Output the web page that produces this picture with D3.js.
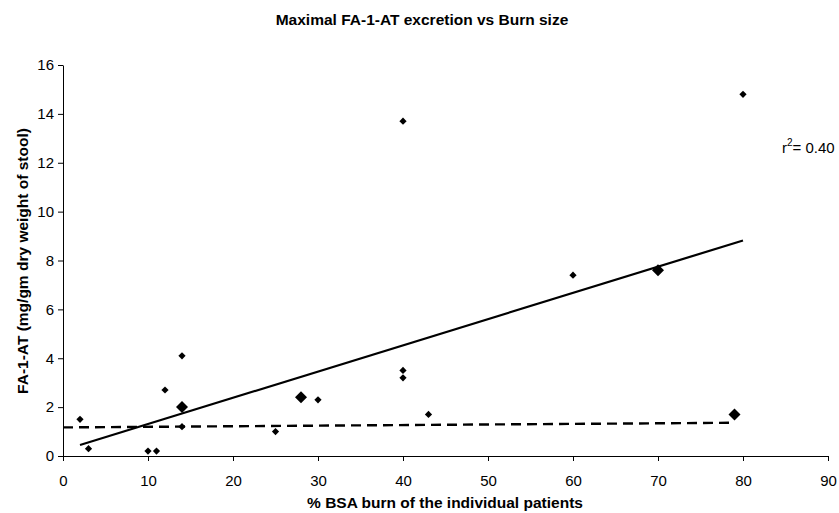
<!DOCTYPE html>
<html>
<head>
<meta charset="utf-8">
<script src="https://cdn.jsdelivr.net/npm/d3@7"></script>
<style>
body { margin: 0; background: #fff; }
text { font-family: "Liberation Sans", Arial, sans-serif; fill: #000; }
</style>
</head>
<body>
<div id="chart"></div>
<script>
// small patient points
var burnSmall = [2, 3, 10, 11, 12, 14, 14, 25, 30, 40, 40, 40, 43, 60, 80];
var fa1atSmall = [1.5, 0.3, 0.2, 0.2, 2.7, 4.1, 1.2, 1.0, 2.3, 13.7, 3.5, 3.2, 1.7, 7.4, 14.8];
// larger markers
var burnBig = [14, 28, 70, 79];
var fa1atBig = [2.0, 2.4, 7.6, 1.7];
// trend lines (end points)
var trendX = [2, 80];
var trendY = [0.45, 8.82];
var baseX = [0, 79];
var baseY = [1.17, 1.36];
var xTicks = [0, 10, 20, 30, 40, 50, 60, 70, 80, 90];
var yTicks = [0, 2, 4, 6, 8, 10, 12, 14, 16];

var w = 839, h = 513;
var svg = d3.select("#chart").append("svg")
    .attr("width", w)
    .attr("height", h);

var x = d3.scaleLinear().domain([0, 90]).range([63, 828]);
var y = d3.scaleLinear().domain([0, 16]).range([456, 65]);

svg.append("g")
    .attr("transform", "translate(0," + y(0) + ")")
    .call(d3.axisBottom(x).tickValues(xTicks).tickSize(5).tickSizeOuter(0))
    .call(function(g) {
        g.selectAll("text").style("font-size", "15px").attr("y", 19);
        g.selectAll("line, path").attr("stroke", "#000");
    });

svg.append("g")
    .attr("transform", "translate(" + x(0) + ",0)")
    .call(d3.axisLeft(y).tickValues(yTicks).tickSize(5).tickSizeOuter(0))
    .call(function(g) {
        g.selectAll("text").style("font-size", "15px").attr("x", -9);
        g.selectAll("line, path").attr("stroke", "#000");
    });

var line = d3.line()
    .x(function(d) { return x(d[0]); })
    .y(function(d) { return y(d[1]); });

svg.append("path")
    .attr("d", line(d3.zip(trendX, trendY)))
    .attr("stroke", "#000")
    .attr("stroke-width", 2.2)
    .attr("fill", "none");

svg.append("path")
    .attr("d", line(d3.zip(baseX, baseY)))
    .attr("stroke", "#000")
    .attr("stroke-width", 2.4)
    .attr("stroke-dasharray", "10,6")
    .attr("fill", "none");

// square diamonds: squares turned 45 degrees
var smallSym = d3.symbol().type(d3.symbolSquare).size(26);
var bigSym = d3.symbol().type(d3.symbolSquare).size(72);

svg.selectAll(".pt")
    .data(d3.zip(burnSmall, fa1atSmall))
    .enter().append("path")
    .attr("class", "pt")
    .attr("d", smallSym)
    .attr("transform", function(d) { return "translate(" + x(d[0]) + "," + y(d[1]) + ") rotate(45)"; })
    .attr("fill", "#000");

svg.selectAll(".big")
    .data(d3.zip(burnBig, fa1atBig))
    .enter().append("path")
    .attr("class", "big")
    .attr("d", bigSym)
    .attr("transform", function(d) { return "translate(" + x(d[0]) + "," + y(d[1]) + ") rotate(45)"; })
    .attr("fill", "#000");

svg.append("text")
    .attr("x", 422).attr("y", 25)
    .attr("text-anchor", "middle")
    .style("font-size", "15.5px")
    .style("font-weight", "bold")
    .text("Maximal FA-1-AT excretion vs Burn size");

svg.append("text")
    .attr("x", 445).attr("y", 508)
    .attr("text-anchor", "middle")
    .style("font-size", "15.5px")
    .style("font-weight", "bold")
    .text("% BSA burn of the individual patients");

svg.append("text")
    .attr("transform", "translate(28,261) rotate(-90)")
    .attr("text-anchor", "middle")
    .style("font-size", "15.5px")
    .style("font-weight", "bold")
    .text("FA-1-AT (mg/gm dry weight of stool)");

var r2 = svg.append("text")
    .attr("x", 782).attr("y", 153)
    .style("font-size", "15px");
r2.append("tspan").text("r");
r2.append("tspan").attr("dy", -7).style("font-size", "10px").text("2");
r2.append("tspan").attr("dy", 7).text("= 0.40");
</script>
</body>
</html>
